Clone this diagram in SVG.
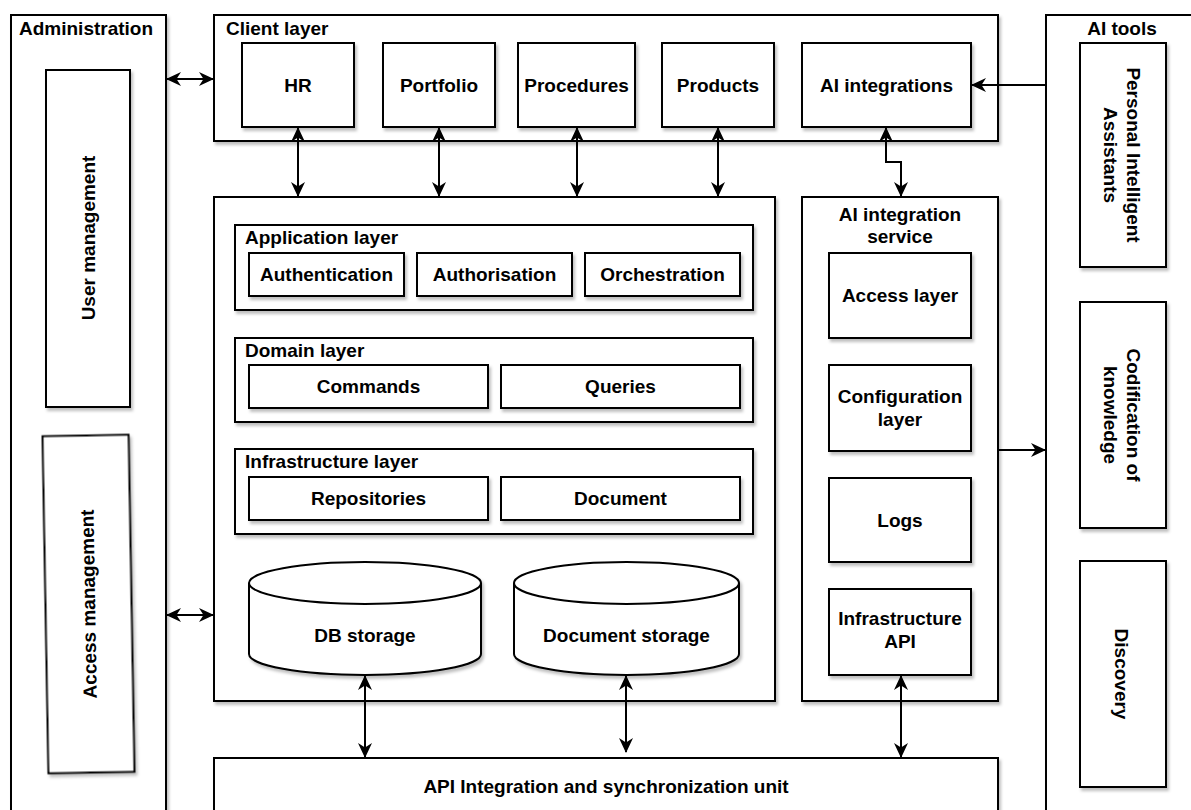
<svg xmlns="http://www.w3.org/2000/svg" width="1191" height="810" viewBox="0 0 1191 810">
<style>
.b{fill:#fff;stroke:#000;stroke-width:2;filter:url(#sh)}
.t{font-family:"Liberation Sans",Arial,sans-serif;font-weight:bold;font-size:19px;fill:#000}
.m{text-anchor:middle}
.c{fill:none;stroke:#000;stroke-width:2}
</style>
<defs>
<filter id="sh" x="-10%" y="-10%" width="130%" height="130%">
<feDropShadow dx="2" dy="3" stdDeviation="1.5" flood-color="#000" flood-opacity="0.25"/>
</filter>
<marker id="ah" viewBox="0 0 15 14" markerWidth="15" markerHeight="14" refX="14" refY="7" orient="auto-start-reverse" markerUnits="userSpaceOnUse">
<path d="M0,0 L15,7 L0,14 L4.5,7 Z" fill="#000"/>
</marker>
</defs>
<rect width="1191" height="810" fill="#fff"/>

<g id="administration">
<rect class="b" x="11" y="15" width="155" height="810"/>
<text class="t" x="19" y="35">Administration</text>
</g>
<g id="user-management">
<rect class="b" x="46" y="70" width="84" height="337"/>
<text class="t m" transform="translate(88,238) rotate(-90)" x="0" y="6.7">User management</text>
</g>
<g id="access-management" transform="rotate(-1 88.5 604)">
<rect class="b" x="45.5" y="435.5" width="86" height="337"/>
<text class="t m" transform="translate(88.5,604) rotate(-90)" x="0" y="6.7">Access management</text>
</g>

<g id="client-layer">
<rect class="b" x="214" y="15" width="784" height="126"/>
<text class="t" x="226" y="35">Client layer</text>
</g>
<g id="hr"><rect class="b" x="242" y="43" width="112" height="84"/><text class="t m" x="298" y="92">HR</text></g>
<g id="portfolio"><rect class="b" x="383" y="43" width="112" height="84"/><text class="t m" x="439" y="92">Portfolio</text></g>
<g id="procedures"><rect class="b" x="518" y="43" width="117" height="84"/><text class="t m" x="576.5" y="92">Procedures</text></g>
<g id="products"><rect class="b" x="662" y="43" width="112" height="84"/><text class="t m" x="718" y="92">Products</text></g>
<g id="ai-integrations"><rect class="b" x="802" y="43" width="169" height="84"/><text class="t m" x="886.5" y="92">AI integrations</text></g>

<g id="main-system"><rect class="b" x="214" y="197" width="561" height="504"/></g>
<g id="application-layer">
<rect class="b" x="235" y="225" width="518" height="85"/>
<text class="t" x="245" y="244">Application layer</text>
</g>
<g id="authentication"><rect class="b" x="249" y="253" width="155" height="43"/><text class="t m" x="326.5" y="281">Authentication</text></g>
<g id="authorisation"><rect class="b" x="417" y="253" width="155" height="43"/><text class="t m" x="494.5" y="281">Authorisation</text></g>
<g id="orchestration"><rect class="b" x="585" y="253" width="155" height="43"/><text class="t m" x="662.5" y="281">Orchestration</text></g>

<g id="domain-layer">
<rect class="b" x="235" y="338" width="518" height="84"/>
<text class="t" x="245" y="357">Domain layer</text>
</g>
<g id="commands"><rect class="b" x="249" y="365" width="239" height="43"/><text class="t m" x="368.5" y="393">Commands</text></g>
<g id="queries"><rect class="b" x="501" y="365" width="239" height="43"/><text class="t m" x="620.5" y="393">Queries</text></g>

<g id="infrastructure-layer">
<rect class="b" x="235" y="449" width="518" height="85"/>
<text class="t" x="245" y="468">Infrastructure layer</text>
</g>
<g id="repositories"><rect class="b" x="249" y="477" width="239" height="43"/><text class="t m" x="368.5" y="505">Repositories</text></g>
<g id="document"><rect class="b" x="501" y="477" width="239" height="43"/><text class="t m" x="620.5" y="505">Document</text></g>

<g id="db-storage">
<path class="b" d="M249,583 A116,21 0 0 1 481,583 L481,654 A116,21 0 0 1 249,654 Z"/>
<path class="c" d="M249,583 A116,21 0 0 0 481,583"/>
<text class="t m" x="365" y="642">DB storage</text>
</g>
<g id="document-storage">
<path class="b" d="M514,583 A112.5,21 0 0 1 739,583 L739,654 A112.5,21 0 0 1 514,654 Z"/>
<path class="c" d="M514,583 A112.5,21 0 0 0 739,583"/>
<text class="t m" x="626.5" y="642">Document storage</text>
</g>

<g id="ai-integration-service">
<rect class="b" x="802" y="197" width="196" height="504"/>
<text class="t m" x="900" y="221">AI integration</text>
<text class="t m" x="900" y="243">service</text>
</g>
<g id="access-layer"><rect class="b" x="829" y="253" width="142" height="85"/><text class="t m" x="900" y="302">Access layer</text></g>
<g id="configuration-layer"><rect class="b" x="829" y="365" width="142" height="86"/><text class="t m" x="900" y="403">Configuration</text><text class="t m" x="900" y="426">layer</text></g>
<g id="logs"><rect class="b" x="829" y="478" width="142" height="84"/><text class="t m" x="900" y="527">Logs</text></g>
<g id="infrastructure-api"><rect class="b" x="829" y="589" width="142" height="86"/><text class="t m" x="900" y="625">Infrastructure</text><text class="t m" x="900" y="648">API</text></g>

<g id="api-unit">
<rect class="b" x="214" y="758" width="784" height="70"/>
<text class="t m" x="606" y="793">API Integration and synchronization unit</text>
</g>

<g id="ai-tools">
<rect class="b" x="1046" y="15" width="152" height="810"/>
<text class="t m" x="1122" y="35">AI tools</text>
</g>
<g id="personal-intelligent-assistants">
<rect class="b" x="1080" y="43" width="86" height="224"/>
<text class="t m" transform="translate(1122,155) rotate(90)"><tspan x="0" y="-4.8">Personal Intelligent</tspan><tspan x="0" y="18.2">Assistants</tspan></text>
</g>
<g id="codification-of-knowledge">
<rect class="b" x="1080" y="302" width="86" height="226"/>
<text class="t m" transform="translate(1122,415) rotate(90)"><tspan x="0" y="-4.8">Codification of</tspan><tspan x="0" y="18.2">knowledge</tspan></text>
</g>
<g id="discovery">
<rect class="b" x="1080" y="561" width="86" height="226"/>
<text class="t m" transform="translate(1122,674) rotate(90)" x="0" y="6.7">Discovery</text>
</g>

<g id="connectors">
<path class="c" d="M167,79 L213,79" marker-start="url(#ah)" marker-end="url(#ah)"/>
<path class="c" d="M167,615 L213,615" marker-start="url(#ah)" marker-end="url(#ah)"/>
<path class="c" d="M298,128 L298,196" marker-start="url(#ah)" marker-end="url(#ah)"/>
<path class="c" d="M439,128 L439,196" marker-start="url(#ah)" marker-end="url(#ah)"/>
<path class="c" d="M577,128 L577,196" marker-start="url(#ah)" marker-end="url(#ah)"/>
<path class="c" d="M718,128 L718,196" marker-start="url(#ah)" marker-end="url(#ah)"/>
<path class="c" d="M886,128 L886,162 L901,162 L901,196" marker-start="url(#ah)" marker-end="url(#ah)"/>
<path class="c" d="M1046,85 L972,85" marker-end="url(#ah)"/>
<path class="c" d="M998,450 L1045,450" marker-end="url(#ah)"/>
<path class="c" d="M365,676 L365,757" marker-start="url(#ah)" marker-end="url(#ah)"/>
<path class="c" d="M626,676 L626,752" marker-start="url(#ah)" marker-end="url(#ah)"/>
<path class="c" d="M901,676 L901,757" marker-start="url(#ah)" marker-end="url(#ah)"/>
</g>
</svg>
